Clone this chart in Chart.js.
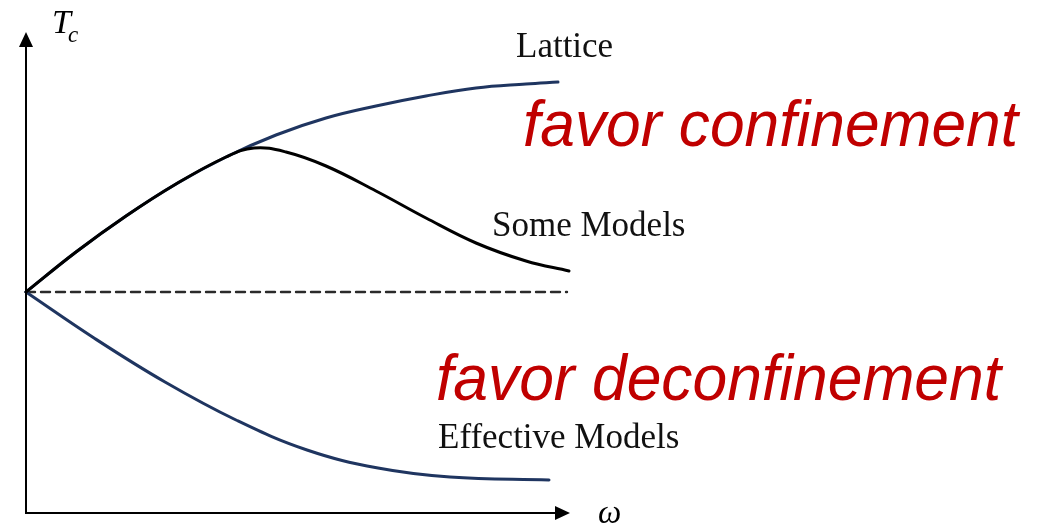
<!DOCTYPE html>
<html>
<head>
<meta charset="utf-8">
<script src="https://cdn.jsdelivr.net/npm/chart.js@4.4.1/dist/chart.umd.min.js"></script>
<style>
  html, body { margin: 0; padding: 0; background: #fff; }
  canvas { display: block; }
</style>
</head>
<body>
<canvas id="chart" width="1048" height="526"></canvas>
<script>
// schematic data: omega vs Tc (arbitrary units)
const latticeX = [0, 50, 100, 150, 200, 250, 300, 350, 400, 450, 500, 532];
const latticeY = [221, 261, 297, 329, 356, 378, 395, 407, 417, 425, 429, 431];

const someX = [0, 50, 100, 150, 200, 228, 260, 300, 350, 400, 450, 500, 543];
const someY = [221, 261, 297, 329, 356, 365, 361, 347, 322, 295, 270, 252, 242];

const effX = [0, 68, 139, 210, 281, 352, 424, 523];
const effY = [221, 175, 131, 93, 63, 45, 36, 33];

const refX = [0, 541];
const refY = [221, 221];

const toPoints = (xs, ys) => xs.map((x, i) => ({ x: x, y: ys[i] }));

// axes arrows and all the labels
const annotations = {
    id: 'annotations',
    afterDraw(chart) {
        const ctx = chart.ctx;
        const a = chart.chartArea;
        ctx.save();

        // axes
        ctx.strokeStyle = '#000';
        ctx.fillStyle = '#000';
        ctx.lineWidth = 2;
        ctx.beginPath();
        ctx.moveTo(a.left, a.top + 10);
        ctx.lineTo(a.left, a.bottom);
        ctx.lineTo(a.right - 10, a.bottom);
        ctx.stroke();

        ctx.beginPath();
        ctx.moveTo(a.left, a.top);
        ctx.lineTo(a.left - 7, a.top + 15);
        ctx.lineTo(a.left + 7, a.top + 15);
        ctx.closePath();
        ctx.fill();

        ctx.beginPath();
        ctx.moveTo(a.right, a.bottom);
        ctx.lineTo(a.right - 15, a.bottom - 7);
        ctx.lineTo(a.right - 15, a.bottom + 7);
        ctx.closePath();
        ctx.fill();

        // axis names
        ctx.textBaseline = 'alphabetic';
        ctx.textAlign = 'left';
        ctx.font = 'italic 34px "Liberation Serif", "Times New Roman", serif';
        ctx.fillText('T', 52, 33);
        ctx.font = 'italic 23px "Liberation Serif", "Times New Roman", serif';
        ctx.fillText('c', 68, 42);
        ctx.font = 'italic 33px "Liberation Serif", "Times New Roman", serif';
        ctx.fillText('ω', 598, 523);

        // curve names
        ctx.fillStyle = '#111';
        ctx.font = '35px "Liberation Serif", "Times New Roman", serif';
        ctx.fillText('Lattice', 516, 57);
        ctx.fillText('Some Models', 492, 236);
        ctx.fillText('Effective Models', 438, 448);

        // red remarks
        ctx.fillStyle = '#c00000';
        ctx.font = 'italic 64px "Liberation Sans Narrow", "Liberation Sans", Arial, sans-serif';
        ctx.fillText('favor confinement', 523, 146, 495);
        ctx.fillText('favor deconfinement', 436, 400, 565);

        ctx.restore();
    }
};

const ctx = document.getElementById('chart').getContext('2d');

new Chart(ctx, {
    type: 'scatter',
    data: {
        datasets: [
            {
                label: 'Some Models',
                data: toPoints(someX, someY),
                borderColor: '#000000',
                borderWidth: 3,
                order: 1
            },
            {
                label: 'Lattice',
                data: toPoints(latticeX, latticeY),
                borderColor: '#1f3560',
                borderWidth: 3,
                order: 2
            },
            {
                label: 'Effective Models',
                data: toPoints(effX, effY),
                borderColor: '#1f3560',
                borderWidth: 3,
                order: 3
            },
            {
                label: 'reference',
                data: toPoints(refX, refY),
                borderColor: '#2a2a2a',
                borderWidth: 2.4,
                borderDash: [9, 6],
                tension: 0,
                order: 4
            }
        ]
    },
    options: {
        responsive: false,
        animation: false,
        layout: {
            padding: { left: 26, top: 32, right: 478, bottom: 13 }
        },
        elements: {
            point: { radius: 0, hoverRadius: 0 },
            line: { tension: 0.4, fill: false, borderCapStyle: 'round' }
        },
        datasets: {
            scatter: { showLine: true, clip: false }
        },
        scales: {
            x: { type: 'linear', min: 0, max: 544, display: false },
            y: { type: 'linear', min: 0, max: 481, display: false }
        },
        plugins: {
            legend: { display: false },
            tooltip: { enabled: false }
        }
    },
    plugins: [annotations]
});
</script>
</body>
</html>
